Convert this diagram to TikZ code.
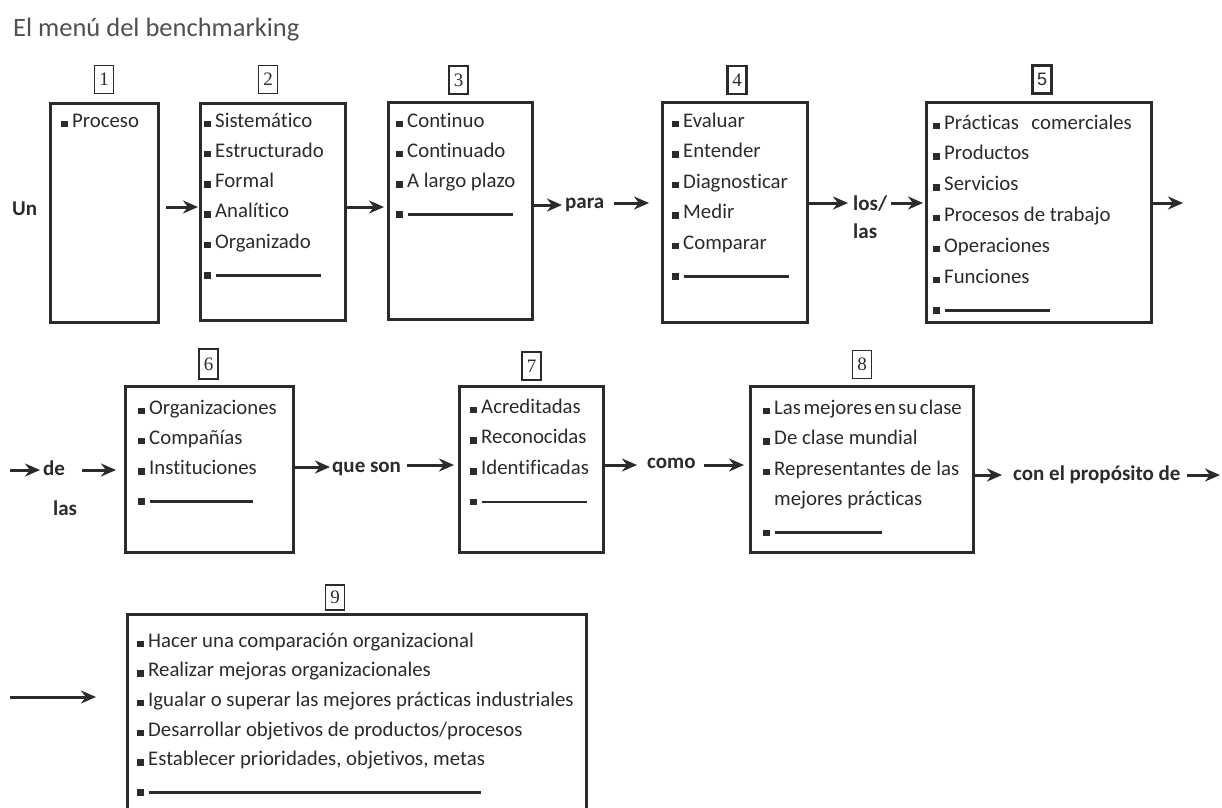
\documentclass[tikz,border=0pt]{standalone}
\usepackage{fontspec}
\setmainfont{Carlito}[Ligatures=CommonOff]
\newfontfamily\numfont{Liberation Serif}
\newfontfamily\numsans{Liberation Sans}
\usetikzlibrary{arrows.meta,calc}
\definecolor{ink}{HTML}{2B2B2B}
\definecolor{titlegrey}{HTML}{505050}
\newcommand\bul{\rule{6.5pt}{6.5pt}\hspace{4.5pt}}
\newcommand\blankline[1]{\rule{6.5pt}{6.5pt}\hspace{5pt}\rule[2pt]{#1pt}{2.6pt}}
\tikzset{
  panel/.style={draw=ink, line width=3pt, anchor=north west, inner sep=0pt},
  numbox/.style={draw=ink, line width=1.3pt, inner sep=0pt, minimum width=19pt, minimum height=28pt, font=\numfont\fontsize{19}{19}\selectfont, text=ink},
  itemtxt/.style={inner sep=0pt, anchor=base west, font=\fontsize{20.8}{21}\selectfont, text=ink},
  conn/.style={inner sep=0pt, anchor=base west, font=\bfseries\fontsize{21}{21}\selectfont, text=ink},
  arr/.style={draw=ink, line width=3pt, -{Stealth[length=15pt,width=13pt]}},
}
\newcommand\panelbox[5]{\node[panel, minimum width={#4-#2}, minimum height={#5-#3}] (#1) at (#2,#3) {};}
\newcommand\itemlist[5]{%
  \foreach \t [count=\i] in {#5}{
    \node[itemtxt] (#1-\i) at (#2,{#3+#4*(\i-1)}) {\t};
  }}
\begin{document}
\begin{tikzpicture}[x=1pt,y=-1pt]
\useasboundingbox (0,0) rectangle (1222,807);
\clip (0,0) rectangle (1222,807);
\fill[white] (0,0) rectangle (1222,807);
\node[anchor=base west, inner sep=0pt, font=\fontsize{26.5}{27}\selectfont, text=titlegrey] (title) at (13,36) {El menú del benchmarking};

% panels
\panelbox{b1}{49}{102}{157}{321}
\panelbox{b2}{199}{102}{344}{319}
\panelbox{b3}{387}{101}{531}{318}
\panelbox{b4}{661}{101}{806}{321}
\panelbox{b5}{925}{101}{1150}{321}
\panelbox{b6}{124}{385}{292}{551}
\panelbox{b7}{458}{385}{602}{551}
\panelbox{b8}{749}{385}{972}{551}
\panelbox{b9}{126}{613}{585}{840}

% number labels
\node[numbox] (n1) at (104,79.5) {1};
\node[numbox] (n2) at (268,79.5) {2};
\node[numbox] (n3) at (458.5,80) {3};
\node[numbox, line width=2.2pt] (n4) at (737,80) {4};
\node[numbox, line width=2.4pt, font=\numsans\fontsize{18}{18}\selectfont] (n5) at (1042,79.5) {5};
\node[numbox, minimum height=30pt] (n6) at (208.5,364) {6};
\node[numbox] (n7) at (531.5,366) {7};
\node[numbox] (n8) at (862,364.5) {8};
\node[numbox, minimum height=25pt] (n9) at (335,597.5) {9};

% items
\itemlist{i1}{61}{127}{30.3}{{\bul Proceso}}
\itemlist{i2}{204}{127}{30.3}{{\bul Sistemático},{\bul Estructurado},{\bul Formal},{\bul Analítico},{\bul Organizado},{\blankline{105}}}
\itemlist{i3}{396}{127}{30.3}{{\bul Continuo},{\bul Continuado},{\bul A largo plazo},{\blankline{105}}}
\itemlist{i4}{672}{127}{30.5}{{\bul Evaluar},{\bul Entender},{\bul Diagnosticar},{\bul Medir},{\bul Comparar},{\blankline{105}}}
\itemlist{i5}{933}{129}{30.8}{{\bul Prácticas\hspace{0.6em}comerciales},{\bul Productos},{\bul Servicios},{\bul Procesos de trabajo},{\bul Operaciones},{\bul Funciones},{\blankline{105}}}
\itemlist{i6}{138}{414}{30.3}{{\bul Organizaciones},{\bul Compañías},{\bul Instituciones},{\blankline{103}}}
\itemlist{i7}{470}{413}{30.8}{{\bul Acreditadas},{\bul Reconocidas},{\bul Identificadas},{\blankline{105}}}
\itemlist{i8}{763}{414}{30.5}{{\bul Las\hspace{2.5pt}mejores\hspace{2.5pt}en\hspace{2.5pt}su\hspace{2.5pt}clase},{\bul De clase mundial},{\bul Representantes de las},{\hphantom{\bul}mejores prácticas},{\blankline{107}}}
\itemlist{i9}{137}{647}{29.7}{{\bul Hacer una comparación organizacional},{\bul Realizar mejoras organizacionales},{\bul Igualar o superar las mejores prácticas industriales},{\bul Desarrollar objetivos de productos/procesos},{\bul Establecer prioridades, objetivos, metas},{\blankline{332}}}

% connector words
\node[conn] (un) at (12,215) {Un};
\node[conn] (para) at (565,208) {para};
\node[conn] (los) at (853,210) {los/};
\node[conn] (lasA) at (853,238) {las};
\node[conn] (de) at (43,475) {de};
\node[conn] (lasB) at (53,515) {las};
\node[conn] (queson) at (332,472) {que son};
\node[conn] (como) at (647,468) {como};
\node[conn] (conel) at (1013,480) {con el propósito de};

% row coordinates
\coordinate (y1) at (0,207);
\coordinate (y2) at (0,205);
\coordinate (y3) at (0,203);
\coordinate (in2) at (10,470);
\coordinate (y5) at (0,467);
\coordinate (y6) at (0,465);
\coordinate (y7) at (0,475);
\coordinate (out1) at (1183,203);
\coordinate (out2) at (1220,475);
\coordinate (in3) at (10,697);

% arrows row 1
\draw[arr] ($(b1.east|-y1)+(6,0)$) -- ($(b2.west|-y1)+(-1,0)$);
\draw[arr] (b2.east|-y1) -- ($(b3.west|-y1)+(-3,0)$);
\draw[arr] (b3.east|-y2) -- ($(para.west|-y2)+(-3,0)$);
\draw[arr] ($(para.east|-y3)+(10,0)$) -- ($(b4.west|-y3)+(-12,0)$);
\draw[arr] (b4.east|-y3) -- ($(los.west|-y3)+(-5,0)$);
\draw[arr] ($(los.east|-y3)+(4,0)$) -- ($(b5.west|-y3)+(-2,0)$);
\draw[arr] (b5.east|-y3) -- (out1);
% arrows row 2
\draw[arr] (in2) -- ($(de.west|-in2)+(-3,0)$);
\draw[arr] ($(de.east|-in2)+(17,0)$) -- ($(b6.west|-in2)+(-8,0)$);
\draw[arr] (b6.east|-y5) -- ($(queson.west|-y5)+(-2,0)$);
\draw[arr] ($(queson.east|-y6)+(6,0)$) -- ($(b7.west|-y6)+(-4,0)$);
\draw[arr] (b7.east|-y6) -- ($(como.west|-y6)+(-10,0)$);
\draw[arr] ($(como.east|-y6)+(8,0)$) -- ($(b8.west|-y6)+(-5,0)$);
\draw[arr] (b8.east|-y7) -- ($(conel.west|-y7)+(-11,0)$);
\draw[arr] ($(conel.east|-y7)+(6,0)$) -- (out2);
% arrow row 3
\draw[arr] (in3) -- ($(b9.west|-in3)+(-30,0)$);
\end{tikzpicture}
\end{document}
